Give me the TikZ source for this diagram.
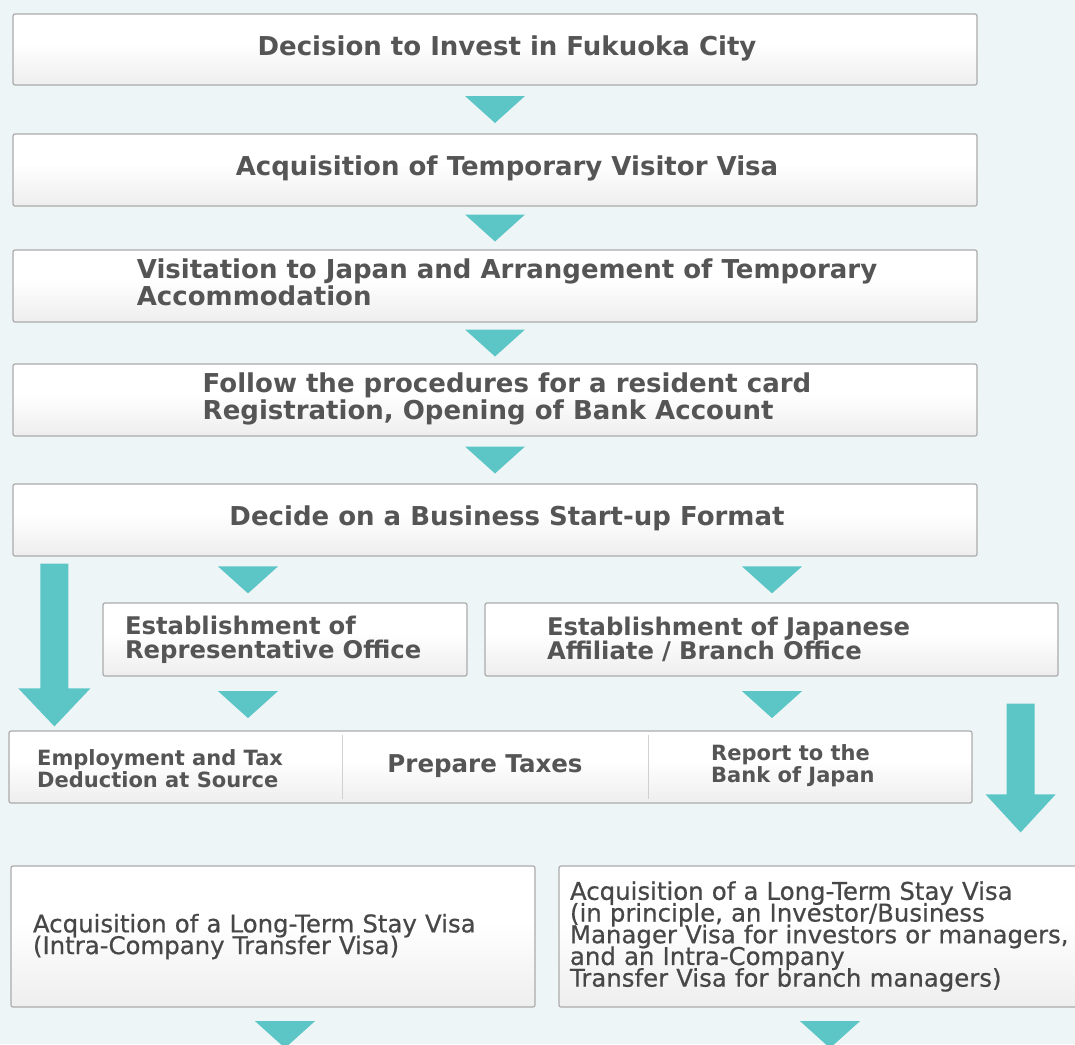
\documentclass[tikz,border=0pt]{standalone}
\usepackage{fontspec}
\setmainfont{DejaVu Sans}
\newfontfamily\visafont{DejaVu Sans}[FakeBold=0.6]
\usetikzlibrary{calc}
\definecolor{bgc}{HTML}{EEF5F7}
\definecolor{arrc}{HTML}{5CC6C6}
\definecolor{bordc}{HTML}{ABABAB}
\definecolor{txtc}{HTML}{555555}
\definecolor{shadc}{HTML}{E0E0E0}
\definecolor{divc}{HTML}{D0D0D0}
\pgfdeclareverticalshading{boxshade}{100bp}{color(0bp)=(shadc); color(12bp)=(shadc!80!white); color(55bp)=(white); color(100bp)=(white)}
\newcommand{\tightlines}{\lineskiplimit=-30pt\relax\lineskip=0pt\relax}
\newcommand{\shiftedtext}[1]{\lineskiplimit=0pt\relax\hspace*{24pt}\begin{tabular}{@{}l@{}}#1\end{tabular}}
\begin{document}
\begin{tikzpicture}[x=1pt,y=-1pt,
  box/.style={draw=bordc, line width=1.2pt, rounded corners=2pt,
    shading=boxshade, inner sep=0pt, text=txtc, align=left},
  bigtxt/.style={font=\bfseries\fontsize{26}{26}\selectfont},
  midtxt/.style={font=\bfseries\fontsize{24.3}{24}\selectfont\tightlines},
  rowtxt/.style={inner sep=0pt, text=txtc, align=left, font=\bfseries\fontsize{21}{22}\selectfont\tightlines},
  visatxt/.style={font=\visafont\fontsize{24.4}{21.7}\selectfont\tightlines},
  tri/.pic={\fill[arrc] (-30,-13.5) -- (30,-13.5) -- (0,13.5) -- cycle;}
]
\clip (0,0) rectangle (1075,1044);
\fill[bgc] (0,0) rectangle (1075,1044);

% main column boxes
\node[box, bigtxt, minimum width=964pt, minimum height=71pt] (b1) at (495,49.5) {\shiftedtext{Decision to Invest in Fukuoka City}};
\node[box, bigtxt, minimum width=964pt, minimum height=72pt] (b2) at (495,170) {\shiftedtext{Acquisition of Temporary Visitor Visa}};
\node[box, bigtxt, minimum width=964pt, minimum height=72pt] (b3) at (495,286) {\shiftedtext{Visitation to Japan and Arrangement of Temporary\tabularnewline Accommodation}};
\node[box, bigtxt, minimum width=964pt, minimum height=72pt] (b4) at (495,400) {\shiftedtext{Follow the procedures for a resident card\tabularnewline Registration, Opening of Bank Account}};
\node[box, bigtxt, minimum width=964pt, minimum height=72pt] (b5) at (495,520) {\shiftedtext{Decide on a Business Start-up Format}};

% second level
\node[box, midtxt, minimum width=364pt, minimum height=73pt, text width=320pt] (rep) at (285,639.5) {Establishment of\\Representative Office};
\node[box, midtxt, minimum width=573pt, minimum height=73pt, text width=449pt] (aff) at (771.5,639.5) {Establishment of Japanese\\Affiliate / Branch Office};

% row of three
\node[box, minimum width=963pt, minimum height=72pt] (row) at (490.5,767) {};
\node[rowtxt, anchor=west] (emp) at (37,769) {Employment and Tax\\Deduction at Source};
\node[rowtxt, font=\bfseries\fontsize{24.5}{24}\selectfont] (tax) at (485,766) {Prepare Taxes};
\node[rowtxt, anchor=west] (boj) at (711,766) {Report to the\\Bank of Japan};
\draw[divc, line width=1pt] (342,735) -- (342,799);
\draw[divc, line width=1pt] (648,735) -- (648,799);

% visa boxes
\node[box, visatxt, text=black!72, minimum width=524pt, minimum height=141pt, text width=480pt] (visaL) at (273,936.5) {Acquisition of a Long-Term Stay Visa\\(Intra-Company Transfer Visa)};
\node[box, visatxt, text=black!72, minimum width=531pt, minimum height=141pt, text width=509pt] (visaR) at (824.5,936.5) {Acquisition of a Long-Term Stay Visa\\(in principle, an Investor/Business\\Manager Visa for investors or managers,\\and an Intra-Company\\Transfer Visa for branch managers)};

% small connectors
\pic at ($(b1.south)!0.5!(b2.north)$) {tri};
\pic at ($(b2.south)!0.5!(b3.north)$) {tri};
\pic at ($(b3.south)!0.5!(b4.north)$) {tri};
\pic at ($(b4.south)!0.5!(b5.north)$) {tri};
\pic at ($(rep.north)+(-37,-22.5)$) {tri};
\pic at ($(aff.north)+(0.5,-22.5)$) {tri};
\pic at ($(rep.south)+(-37,28)$) {tri};
\pic at ($(aff.south)+(0.5,28)$) {tri};
\pic at ($(visaL.south)+(12,27)$) {tri};
\pic at ($(visaR.south)+(5.5,27)$) {tri};

% big arrows
\coordinate (ls) at ($(b5.south west)+(42,7)$);
\coordinate (le) at ($(row.north west -| ls)+(0,-4)$);
\fill[arrc] ($(ls)+(-14,0)$) -- ($(ls)+(14,0)$) -- ($(le)+(14,-38)$) -- ($(le)+(36,-38)$) -- (le) -- ($(le)+(-36,-38)$) -- ($(le)+(-14,-38)$) -- cycle;
\coordinate (rs) at ($(aff.south east)+(-38,27)$);
\coordinate (re) at ($(visaR.north -| rs)+(0,-33)$);
\fill[arrc] ($(rs)+(-14,0)$) -- ($(rs)+(14,0)$) -- ($(re)+(14,-38)$) -- ($(re)+(35,-38)$) -- (re) -- ($(re)+(-35,-38)$) -- ($(re)+(-14,-38)$) -- cycle;
\end{tikzpicture}
\end{document}
